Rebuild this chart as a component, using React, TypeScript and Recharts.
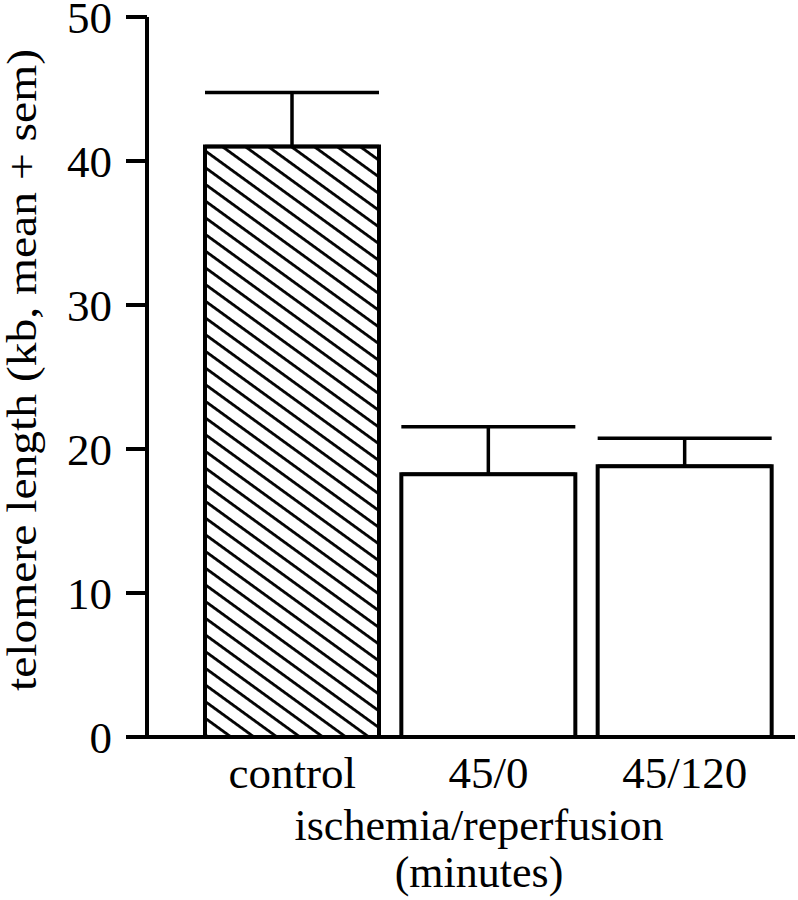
import { BarChart, Bar, XAxis, YAxis, Cell, ErrorBar } from "recharts";

const categories = ["control", "45/0", "45/120"];
const meanLength = [41.0, 18.25, 18.8];
const semLength = [3.75, 3.3, 1.95];
const yTicks = [0, 10, 20, 30, 40, 50];

const FONT = "'Liberation Serif', 'Times New Roman', serif";

const data = categories.map((name, i) => ({
  name,
  value: meanLength[i],
  err: [0, semLength[i]],
}));

// rotated y title, stretched a bit to match the original's wider type
const YTitle = ({ viewBox }: any) => {
  const cx = 22;
  const cy = viewBox.y + viewBox.height / 2 - 7;
  return (
    <text
      x={cx}
      y={cy}
      transform={`rotate(-90, ${cx}, ${cy})`}
      textAnchor="middle"
      dominantBaseline="central"
      fontFamily={FONT}
      fontSize={42}
      textLength={642}
      lengthAdjust="spacingAndGlyphs"
      fill="#000"
    >
      telomere length (kb, mean + sem)
    </text>
  );
};

const XTitle = ({ viewBox }: any) => {
  const cx = 479;
  const top = viewBox.y;
  return (
    <g fontFamily={FONT} fontSize={44} fill="#000" textAnchor="middle">
      <text x={cx} y={top + 103}>
        ischemia/reperfusion
      </text>
      <text x={cx} y={top + 150}>
        (minutes)
      </text>
    </g>
  );
};

const App = () => {
  return (
    <div style={{ position: "absolute", left: 0, top: 0, background: "#fff" }}>
      <BarChart
        width={798}
        height={900}
        data={data}
        margin={{ top: 17, right: 3, bottom: 0, left: 0 }}
        barSize={174}
      >
        <defs>
          <pattern
            id="hatch"
            patternUnits="userSpaceOnUse"
            width={10}
            height={13.5}
            patternTransform="rotate(36)"
          >
            <rect x={0} y={0} width={10} height={13.5} fill="#fff" />
            <rect x={0} y={0} width={10} height={2.8} fill="#000" />
          </pattern>
        </defs>
        <XAxis
          dataKey="name"
          height={163}
          padding={{ left: 47, right: 12 }}
          tickLine={false}
          tickSize={0}
          tickMargin={19}
          axisLine={{ stroke: "#000", strokeWidth: 4 }}
          tick={{ fill: "#000", fontSize: 45, fontFamily: FONT }}
          label={<XTitle />}
        />
        <YAxis
          width={147}
          domain={[0, 50]}
          ticks={yTicks}
          interval={0}
          tickSize={21}
          tickMargin={14}
          axisLine={{ stroke: "#000", strokeWidth: 4 }}
          tickLine={{ stroke: "#000", strokeWidth: 4 }}
          tick={{ fill: "#000", fontSize: 45, fontFamily: FONT }}
          label={<YTitle />}
        />
        <Bar
          dataKey="value"
          stroke="#000"
          strokeWidth={4}
          isAnimationActive={false}
        >
          {data.map((d, i) => (
            <Cell key={d.name} fill={i === 0 ? "url(#hatch)" : "#fff"} />
          ))}
          <ErrorBar
            dataKey="err"
            direction="y"
            width={87}
            stroke="#000"
            strokeWidth={3.5}
            isAnimationActive={false}
          />
        </Bar>
      </BarChart>
    </div>
  );
};

export default App;
